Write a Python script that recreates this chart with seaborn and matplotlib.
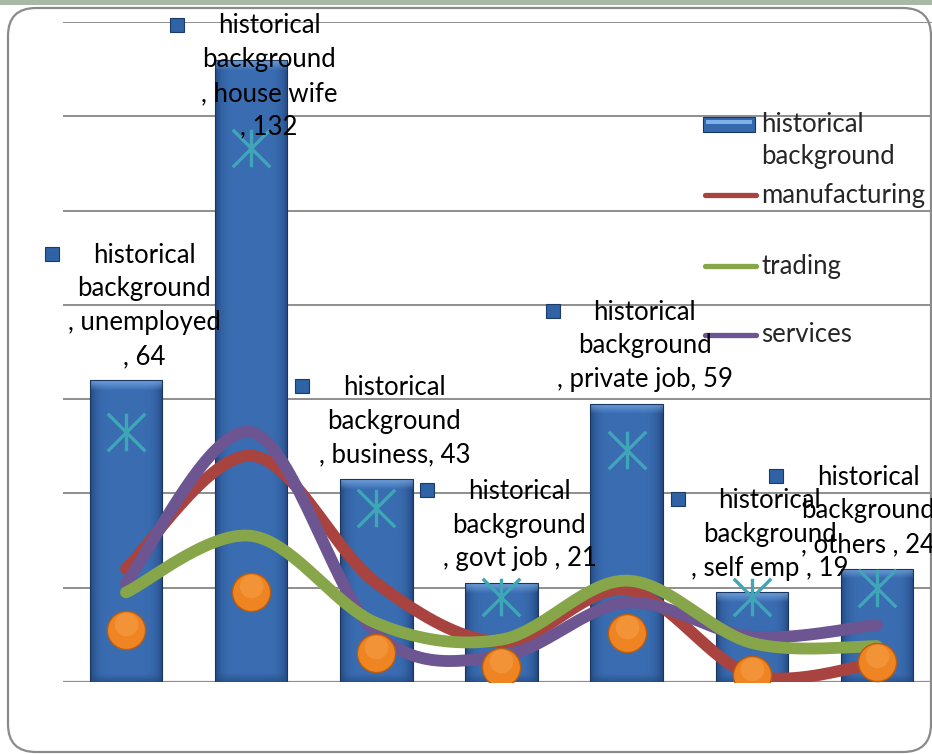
import numpy as np
import pandas as pd
import matplotlib
matplotlib.use("Agg")
import matplotlib.pyplot as plt
import matplotlib.colors as mcolors
import seaborn as sns
from matplotlib.path import Path
from matplotlib.patches import FancyBboxPatch, Rectangle
from matplotlib.lines import Line2D
from matplotlib.transforms import offset_copy

# ---- data -------------------------------------------------------------
categories = ["unemployed", "house wife", "business", "govt job ",
              "private job", "self emp ", "others "]
historical_background = [64, 132, 43, 21, 59, 19, 24]
manufacturing = [24, 48, 21, 8.5, 19.5, 1.5, 4]
trading = [19, 31, 12.5, 9, 21.5, 8.3, 7.6]
services = [21, 53, 10.3, 5.5, 16.8, 9.6, 12.1]
circle_points = [11.0, 19.1, 6.2, 3.2, 10.4, 1.5, 4.2]
star_points = [53.0, 113.3, 36.9, 18.0, 49.2, 18.0, 19.9]
bar_series = "historical background"
y_ticks = [0, 20, 40, 60, 80, 100, 120, 140]
wrap_value = {"unemployed", "house wife"}

# ---- styling ----------------------------------------------------------
W, H, DPI = 932, 754, 100
sns.set_theme(style="white")
plt.rcParams["font.family"] = ["Lato", "DejaVu Sans"]
FS = 18.5
LS = 1.44

RED, GREEN, PURPLE = "#a9433f", "#87a64a", "#6c5590"
ORANGE, ORANGE_EDGE = "#ee8422", "#b95d10"
TEAL = "#3ea6b6"
GRID = "#8e8e8e"

fig = plt.figure(figsize=(W / DPI, H / DPI), dpi=DPI)
fig.patch.set_facecolor("white")

# top band and rounded frame
fig.add_artist(Rectangle((0, 1 - 5 / H), 1, 5 / H, transform=fig.transFigure,
                         color="#a8baa6", lw=0, zorder=0))
fig.add_artist(FancyBboxPatch((8 / W, 1 - 752 / H), (931 - 8) / W, (752 - 8) / H,
                              boxstyle="round,pad=0,rounding_size=0.03",
                              transform=fig.transFigure, facecolor="none",
                              edgecolor="#8a8a8a", lw=1.6, zorder=0,
                              mutation_aspect=W / H))

ax = fig.add_axes([63.4 / W, (H - 682) / H, 876.2 / W, 660 / H])
ax.set_facecolor("none")

# ---- bars -------------------------------------------------------------
df = pd.DataFrame({"category": categories, "value": historical_background})
sns.barplot(data=df, x="category", y="value", color="#3469ad", width=0.58,
            saturation=1, ax=ax, zorder=2)

ax.set_xlim(-0.5, 6.5)
ax.set_ylim(y_ticks[0], y_ticks[-1])
ax.set_yticks(y_ticks)
ax.yaxis.grid(True, color=GRID, lw=1.4, zorder=0)
ax.set_axisbelow(True)
ax.set_xticks([])
ax.set_yticklabels([])
ax.set_xlabel("")
ax.set_ylabel("")
ax.tick_params(length=0)
for s in ax.spines.values():
    s.set_visible(False)
ax.axhline(0, color=GRID, lw=1.6, zorder=1.5)

px_per_unit = ax.transData.transform((0, 1))[1] - ax.transData.transform((0, 0))[1]

base = np.array(mcolors.to_rgb("#3a6db2"))
dark = np.array(mcolors.to_rgb("#1d3f73"))
light = np.array(mcolors.to_rgb("#86b6ee"))
bottom = np.array(mcolors.to_rgb("#22477c"))
for patch in ax.patches:
    x0, w, h = patch.get_x(), patch.get_width(), patch.get_height()
    nx, ny = 80, 300
    u = np.linspace(-1, 1, nx)
    prof = 1 - np.clip(np.abs(u) ** 6, 0, 1) * 0.8
    horiz = dark[None, :] + (base - dark)[None, :] * prof[:, None]
    img = np.repeat(horiz[None, :, :], ny, axis=0)
    bar_px = h * px_per_unit
    d = np.linspace(0, bar_px, ny)
    top_mix = np.clip(1 - d / 10, 0, 1)[:, None, None]
    img = img * (1 - top_mix * 0.7) + light[None, None, :] * top_mix * 0.7
    bot_mix = np.clip(1 - (bar_px - d) / 8, 0, 1)[:, None, None]
    img = img * (1 - bot_mix * 0.6) + bottom[None, None, :] * bot_mix * 0.6
    im = ax.imshow(img, extent=(x0, x0 + w, 0, h), origin="upper",
                   aspect="auto", interpolation="bilinear", zorder=2.1)
    im.set_clip_path(patch)
    patch.set_facecolor("none")
    patch.set_edgecolor("#1b365e")
    patch.set_linewidth(0.8)
    patch.set_zorder(2.2)

ax.set_xlim(-0.5, 6.5)
ax.set_ylim(y_ticks[0], y_ticks[-1])

# ---- asterisk markers --------------------------------------------------
asterisk = Path([(0, -1), (0, 1), (-1, -1), (1, 1), (-1, 1), (1, -1)],
                [Path.MOVETO, Path.LINETO, Path.MOVETO, Path.LINETO,
                 Path.MOVETO, Path.LINETO])
xs = np.arange(len(categories))
ax.plot(xs, star_points, ls="none", marker=asterisk, ms=27,
        mec=TEAL, mew=2.4, zorder=3)


# ---- smoothed lines ----------------------------------------------------
def smooth_curve(x, y, n=40):
    pts = np.column_stack([x, y]).astype(float)
    out = []
    for i in range(len(pts) - 1):
        p0 = pts[i - 1] if i > 0 else pts[i]
        p1, p2 = pts[i], pts[i + 1]
        p3 = pts[i + 2] if i + 2 < len(pts) else pts[i + 1]
        c1 = p1 + (p2 - p0) / 6
        c2 = p2 - (p3 - p1) / 6
        t = np.linspace(0, 1, n)[:, None]
        seg = ((1 - t) ** 3) * p1 + 3 * (1 - t) ** 2 * t * c1 \
            + 3 * (1 - t) * t ** 2 * c2 + t ** 3 * p2
        out.append(seg if i == 0 else seg[1:])
    return np.vstack(out)


for vals, col, z in [(manufacturing, RED, 4.0), (services, PURPLE, 4.1),
                     (trading, GREEN, 4.2)]:
    c = smooth_curve(xs, vals)
    ax.plot(c[:, 0], c[:, 1], color=col, lw=8.5, solid_capstyle="round",
            solid_joinstyle="round", zorder=z)

# ---- orange circles ----------------------------------------------------
sns.scatterplot(x=xs, y=circle_points, s=27.5 ** 2, color=ORANGE,
                edgecolor=ORANGE_EDGE, linewidth=1.0, ax=ax, zorder=5,
                legend=False)
hl = offset_copy(ax.transData, fig=fig, x=0, y=6, units="dots")
ax.scatter(xs, circle_points, s=17 ** 2, color="#f6a04a", alpha=0.55,
           lw=0, transform=hl, zorder=5.1)
ax.set_xlim(-0.5, 6.5)
ax.set_ylim(y_ticks[0], y_ticks[-1])

# ---- data labels -------------------------------------------------------
LINE = 33
name_lines = bar_series.split(" ")
for i, (cat, val) in enumerate(zip(categories, historical_background)):
    if cat in wrap_value:
        lines = name_lines + [f", {cat}", f", {val}"]
    else:
        lines = name_lines + [f", {cat}, {val}"]
    n = len(lines)
    bx, by = ax.transData.transform((i, val))
    top_px = H - by
    cx = min(bx + 18, 868)
    y_first = max(top_px - 25 - (n - 1) * LINE, 27)
    yc = y_first + (n - 1) * LINE / 2
    fig.text(cx / W, 1 - yc / H, "\n".join(lines), ha="center", va="center",
             fontsize=FS, linespacing=LS, color="black", zorder=10)
    fig.add_artist(Line2D([(cx - 92) / W], [1 - (y_first - 2) / H],
                          transform=fig.transFigure, marker="s", ms=10,
                          mfc="#2f63a6", mec="#1b3a66", mew=0.8, ls="none",
                          zorder=10))

# ---- legend ------------------------------------------------------------
fig.add_artist(Rectangle((703 / W, 1 - 132 / H), 52 / W, 15 / H,
                         transform=fig.transFigure, facecolor="#3469ad",
                         edgecolor="#1b365e", lw=0.8, zorder=10))
fig.add_artist(Rectangle((706 / W, 1 - 124 / H), 46 / W, 4 / H,
                         transform=fig.transFigure, facecolor="#7fb0ea",
                         lw=0, zorder=10.1))
fig.text(761 / W, 1 - 140.5 / H, "historical\nbackground", ha="left",
         va="center", fontsize=FS, linespacing=1.34, zorder=10)
for label, col, y in [("manufacturing", RED, 195), ("trading", GREEN, 266),
                      ("services", PURPLE, 335)]:
    fig.add_artist(Line2D([705 / W, 756 / W], [1 - y / H, 1 - y / H],
                          transform=fig.transFigure, color=col, lw=3.8,
                          solid_capstyle="round", zorder=10))
    fig.text(761 / W, 1 - y / H, label, ha="left", va="center",
             fontsize=FS, zorder=10)

fig.savefig("out.png", dpi=DPI)
